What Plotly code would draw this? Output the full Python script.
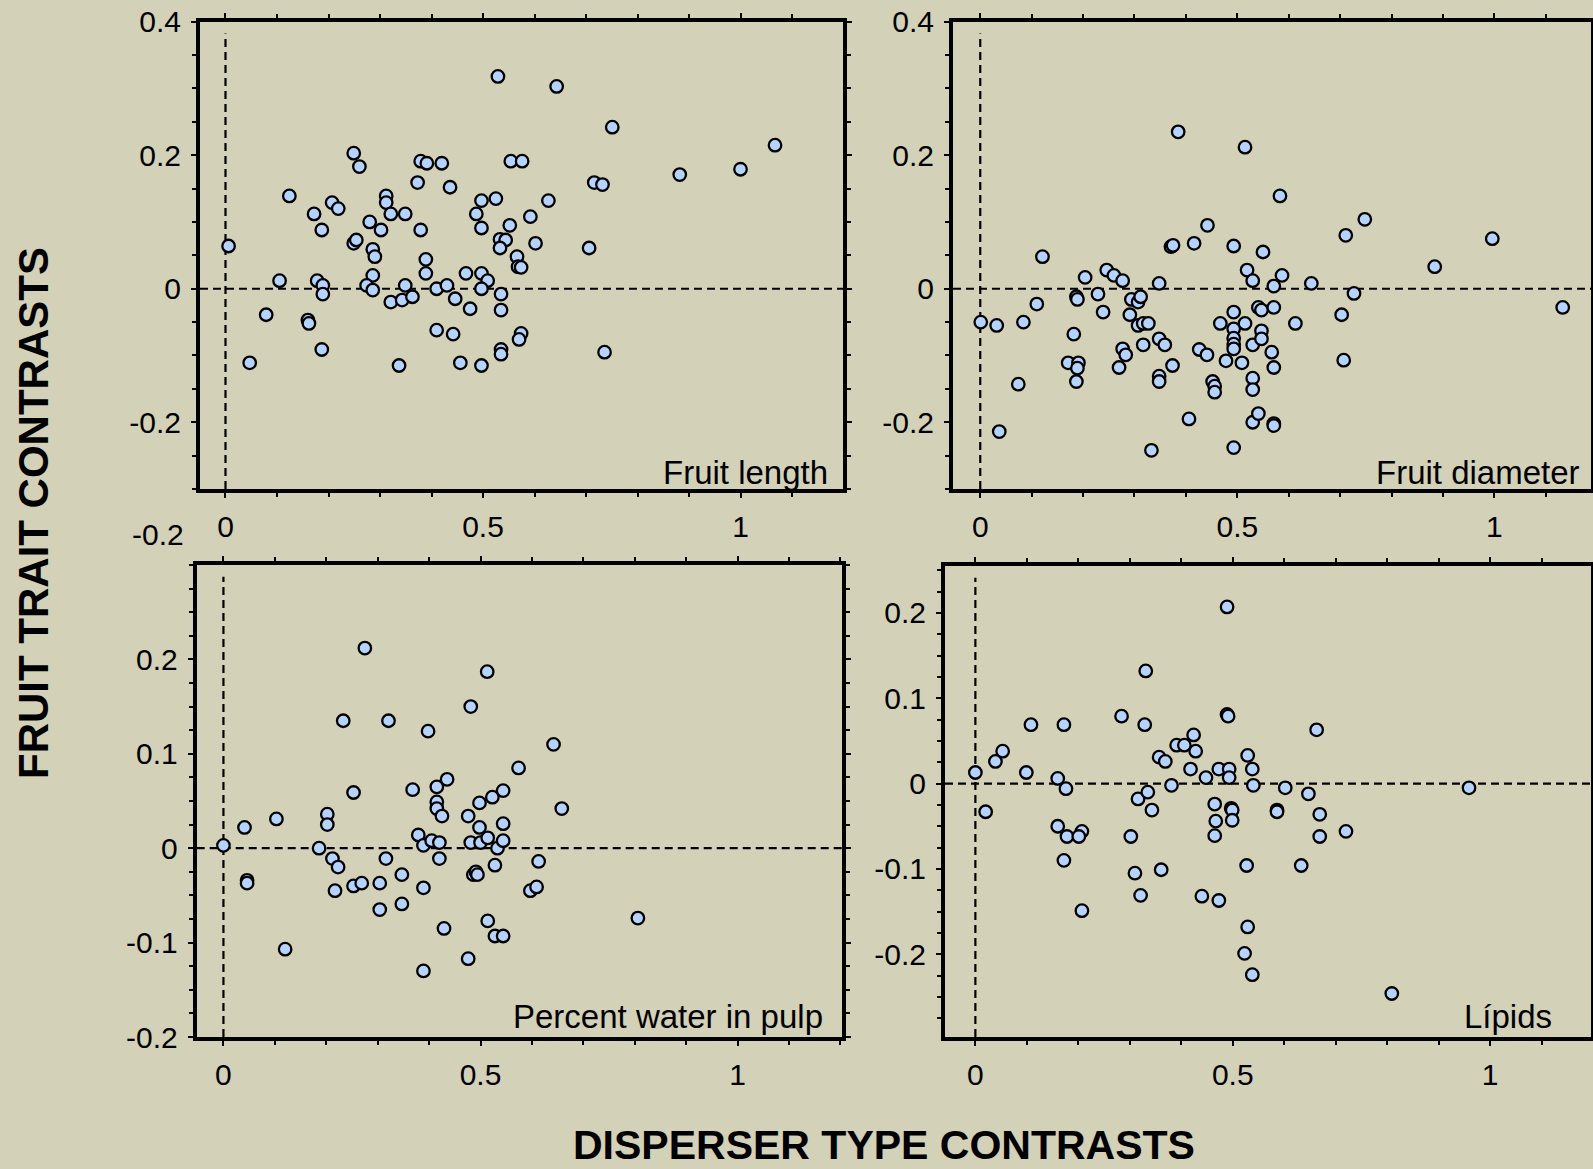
import plotly.graph_objects as go

# ---------------- data ----------------
fl_x = [0.006, 0.047, 0.079, 0.105, 0.124, 0.160, 0.162, 0.172, 0.178, 0.189, 0.189, 0.187, 0.187, 0.207, 0.219,
        0.249, 0.260, 0.249, 0.254, 0.280, 0.286, 0.286, 0.274, 0.286, 0.290, 0.302, 0.312, 0.312, 0.321, 0.349,
        0.337, 0.321, 0.343, 0.349, 0.363, 0.373, 0.379, 0.391, 0.379, 0.389, 0.389, 0.410, 0.430, 0.420, 0.436,
        0.410, 0.442, 0.446, 0.475, 0.467, 0.456, 0.487, 0.497, 0.497, 0.497, 0.509, 0.497, 0.497, 0.529, 0.525,
        0.533, 0.544, 0.533, 0.552, 0.535, 0.535, 0.535, 0.535, 0.554, 0.576, 0.566, 0.568, 0.574, 0.574, 0.570,
        0.592, 0.602, 0.627, 0.643, 0.706, 0.716, 0.732, 0.736, 0.751, 0.882, 1.000, 1.067]
fl_y = [0.064, -0.111, -0.039, 0.012, 0.139, -0.047, -0.052, 0.112, 0.012, 0.005, -0.008, -0.091, 0.088, 0.129, 0.120,
        0.203, 0.183, 0.068, 0.073, 0.100, 0.059, 0.020, 0.005, -0.002, 0.048, 0.088, 0.139, 0.129, 0.112, 0.112,
        -0.115, -0.020, -0.017, 0.005, -0.012, 0.159, 0.191, 0.188, 0.088, 0.044, 0.023, 0.000, 0.005, 0.188, 0.152,
        -0.062, -0.068, -0.015, -0.030, 0.023, -0.111, 0.112, 0.132, 0.091, 0.023, 0.012, 0.000, -0.115, 0.318, 0.135,
        0.074, 0.073, 0.061, 0.095, -0.008, -0.032, -0.091, -0.098, 0.191, 0.191, 0.048, 0.033, 0.032, -0.067, -0.076,
        0.108, 0.068, 0.132, 0.303, 0.061, 0.159, 0.156, -0.095, 0.242, 0.171, 0.179, 0.215]

fd_x = [0.001, 0.032, 0.037, 0.074, 0.084, 0.110, 0.121, 0.171, 0.182, 0.187, 0.189, 0.191, 0.189, 0.187, 0.204,
        0.229, 0.239, 0.246, 0.260, 0.277, 0.270, 0.277, 0.283, 0.291, 0.294, 0.307, 0.312, 0.307, 0.317, 0.327,
        0.317, 0.333, 0.348, 0.348, 0.359, 0.348, 0.348, 0.371, 0.375, 0.374, 0.385, 0.406, 0.416, 0.426, 0.441,
        0.442, 0.452, 0.456, 0.456, 0.467, 0.478, 0.493, 0.493, 0.493, 0.493, 0.493, 0.493, 0.493, 0.509, 0.515,
        0.515, 0.519, 0.530, 0.530, 0.530, 0.530, 0.530, 0.541, 0.547, 0.541, 0.547, 0.547, 0.550, 0.567, 0.571,
        0.571, 0.571, 0.571, 0.571, 0.583, 0.587, 0.613, 0.644, 0.703, 0.707, 0.711, 0.727, 0.748, 0.884, 0.996, 1.133]
fd_y = [-0.050, -0.055, -0.214, -0.143, -0.050, -0.023, 0.048, -0.111, -0.068, -0.012, -0.016, -0.111, -0.119, -0.139, 0.017,
        -0.008, -0.035, 0.028, 0.020, 0.012, -0.118, -0.090, -0.099, -0.039, -0.016, -0.020, -0.012, -0.055, -0.052, -0.052,
        -0.084, -0.242, 0.008, -0.075, -0.084, -0.131, -0.139, 0.063, 0.065, -0.115, 0.235, -0.195, 0.068, -0.091, -0.099,
        0.095, -0.139, -0.146, -0.155, -0.052, -0.108, 0.064, -0.035, -0.060, -0.074, -0.083, -0.090, -0.238, -0.111, 0.212,
        -0.052, 0.028, 0.012, -0.084, -0.134, -0.151, -0.200, -0.028, -0.063, -0.187, -0.032, -0.075, 0.055, -0.095, 0.004,
        -0.028, -0.118, -0.202, -0.205, 0.139, 0.020, -0.052, 0.008, -0.039, -0.107, 0.080, -0.007, 0.104, 0.033, 0.075, -0.028]

wp_x = [0.000, 0.041, 0.046, 0.046, 0.103, 0.120, 0.186, 0.202, 0.202, 0.212, 0.223, 0.217, 0.233, 0.253, 0.253,
        0.269, 0.275, 0.304, 0.304, 0.316, 0.321, 0.347, 0.347, 0.368, 0.379, 0.389, 0.389, 0.389, 0.398, 0.405,
        0.415, 0.415, 0.415, 0.420, 0.420, 0.425, 0.429, 0.435, 0.476, 0.476, 0.481, 0.481, 0.486, 0.491, 0.494,
        0.498, 0.498, 0.500, 0.513, 0.514, 0.514, 0.523, 0.528, 0.528, 0.533, 0.544, 0.544, 0.544, 0.544, 0.574,
        0.597, 0.609, 0.613, 0.642, 0.658, 0.806]
wp_y = [0.003, 0.022, -0.034, -0.037, 0.031, -0.107, 0.000, 0.036, 0.025, -0.011, -0.020, -0.045, 0.135, 0.059, -0.040,
        -0.037, 0.212, -0.037, -0.065, -0.011, 0.135, -0.028, -0.059, 0.062, 0.014, 0.003, -0.042, -0.130, 0.124, 0.008,
        0.065, 0.049, 0.042, 0.006, -0.011, 0.034, -0.085, 0.073, 0.034, -0.117, 0.150, 0.006, -0.028, -0.025, -0.028,
        0.048, 0.022, 0.006, 0.187, 0.011, -0.077, 0.054, -0.018, -0.093, 0.000, 0.061, 0.026, 0.008, -0.093, 0.085,
        -0.045, -0.041, -0.014, 0.110, 0.042, -0.074]

lp_x = [0.000, 0.020, 0.039, 0.053, 0.099, 0.108, 0.160, 0.176, 0.172, 0.160, 0.178, 0.172, 0.207, 0.201, 0.207,
        0.284, 0.302, 0.310, 0.321, 0.316, 0.335, 0.343, 0.331, 0.329, 0.357, 0.369, 0.361, 0.381, 0.391, 0.406,
        0.424, 0.428, 0.418, 0.440, 0.448, 0.465, 0.467, 0.465, 0.473, 0.473, 0.489, 0.489, 0.491, 0.493, 0.493,
        0.497, 0.499, 0.499, 0.529, 0.538, 0.540, 0.527, 0.529, 0.523, 0.538, 0.586, 0.586, 0.602, 0.633, 0.647,
        0.663, 0.669, 0.669, 0.720, 0.809, 0.959]
lp_y = [0.013, -0.033, 0.026, 0.038, 0.013, 0.069, 0.006, -0.006, 0.069, -0.050, -0.062, -0.090, -0.056, -0.062, -0.149,
        0.079, -0.062, -0.105, -0.131, -0.018, -0.010, -0.031, 0.132, 0.069, 0.031, 0.026, -0.101, -0.002, 0.045, 0.045,
        0.057, 0.038, 0.017, -0.132, 0.007, -0.024, -0.044, -0.061, -0.137, 0.017, 0.207, 0.081, 0.079, 0.017, 0.007,
        -0.029, -0.031, -0.043, 0.033, 0.017, -0.002, -0.096, -0.168, -0.199, -0.224, -0.031, -0.033, -0.005, -0.096, -0.012,
        0.063, -0.036, -0.062, -0.056, -0.246, -0.005]

panel_labels = ["Fruit length", "Fruit diameter", "Percent water in pulp", "L\u00edpids"]
x_tickvals = [0, 0.5, 1]
x_ticktext = ["0", "0.5", "1"]
y_tickvals_top = [-0.2, 0, 0.2, 0.4]
y_ticktext_top = ["-0.2", "0", "0.2", "0.4"]
y_tickvals_bot = [-0.2, -0.1, 0, 0.1, 0.2]
y_ticktext_bot = ["-0.2", "-0.1", "0", "0.1", "0.2"]
y_title = "FRUIT TRAIT CONTRASTS"
x_title = "DISPERSER TYPE CONTRASTS"

# ---------------- styling ----------------
W, H = 1593, 1169
BG = "#d4d1b9"
FONT = "Liberation Sans, Arial, sans-serif"
MARK_FILL = "#b4d3ff"

def px_x(p):
    return p / W

def px_y(p):
    return 1 - p / H

panels = [
    dict(x=fl_x, y=fl_y, dom_x=(200, 843), dom_y=(21.7, 489), xr=(-0.0495, 1.199), yr=(-0.3, 0.4),
         yt=(y_tickvals_top, y_ticktext_top), yminor=0.05, label_dx=13, label_dy=17),
    dict(x=fd_x, y=fd_y, dom_x=(953, 1591), dom_y=(21.7, 489), xr=(-0.053, 1.188), yr=(-0.3, 0.4),
         yt=(y_tickvals_top, y_ticktext_top), yminor=0.05, label_dx=9, label_dy=17),
    dict(x=wp_x, y=wp_y, dom_x=(196.7, 842), dom_y=(565, 1037), xr=(-0.052, 1.203), yr=(-0.2, 0.3),
         yt=(y_tickvals_bot, y_ticktext_bot), yminor=0.025, label_dx=17, label_dy=21),
    dict(x=lp_x, y=lp_y, dom_x=(945, 1591), dom_y=(566, 1037), xr=(-0.059, 1.196), yr=(-0.297, 0.255),
         yt=(y_tickvals_bot, y_ticktext_bot), yminor=0.025, label_dx=37, label_dy=21),
]

fig = go.Figure()
shapes = []
annotations = []

for i, p in enumerate(panels, start=1):
    xa = "x" if i == 1 else f"x{i}"
    ya = "y" if i == 1 else f"y{i}"
    fig.add_trace(go.Scatter(
        x=p["x"], y=p["y"], mode="markers", xaxis=xa, yaxis=ya, showlegend=False,
        marker=dict(size=12.5, color=MARK_FILL, line=dict(color="black", width=2.3)),
        cliponaxis=False, hoverinfo="skip",
    ))
    axis_common = dict(
        showline=True, linecolor="black", linewidth=4, mirror="allticks",
        ticks="outside", ticklen=5, tickwidth=2, tickcolor="black",
        showgrid=False, zeroline=False, automargin=False,
        tickfont=dict(family=FONT, size=30, color="black"),
    )
    xkey = "xaxis" if i == 1 else f"xaxis{i}"
    ykey = "yaxis" if i == 1 else f"yaxis{i}"
    fig.update_layout({
        xkey: dict(
            axis_common,
            domain=[px_x(p["dom_x"][0]), px_x(p["dom_x"][1])],
            range=list(p["xr"]), anchor=ya,
            tickmode="array", tickvals=x_tickvals, ticktext=x_ticktext,
            ticklabelstandoff=3,
            minor=dict(tickmode="linear", tick0=0, dtick=0.1, ticks="outside", ticklen=4,
                       tickwidth=2, tickcolor="black", showgrid=False),
        ),
        ykey: dict(
            axis_common,
            domain=[px_y(p["dom_y"][1]), px_y(p["dom_y"][0])],
            range=list(p["yr"]), anchor=xa,
            tickmode="array", tickvals=p["yt"][0], ticktext=p["yt"][1],
            ticklabelstandoff=4,
            minor=dict(tickmode="linear", tick0=0, dtick=p["yminor"], ticks="outside", ticklen=4,
                       tickwidth=2, tickcolor="black", showgrid=False),
        ),
    })
    dash = "8px,5px"
    shapes.append(dict(type="line", xref=xa, yref=f"{ya} domain", x0=0, x1=0, y0=0, y1=0.975,
                       line=dict(color="black", width=2.2, dash=dash), layer="below"))
    shapes.append(dict(type="line", xref=f"{xa} domain", yref=ya, x0=0, x1=1, y0=0, y1=0,
                       line=dict(color="black", width=2.2, dash=dash), layer="below"))
    w = p["dom_x"][1] - p["dom_x"][0]
    h = p["dom_y"][1] - p["dom_y"][0]
    annotations.append(dict(
        text=panel_labels[i - 1], xref=f"{xa} domain", yref=f"{ya} domain",
        x=1 - p["label_dx"] / w, y=p["label_dy"] / h, xanchor="right", yanchor="middle",
        showarrow=False, font=dict(family=FONT, size=33, color="black"),
    ))

annotations.append(dict(
    text=f"<b>{y_title}</b>", xref="paper", yref="paper", x=px_x(33), y=px_y(513),
    textangle=-90, showarrow=False, xanchor="center", yanchor="middle",
    font=dict(family=FONT, size=42, color="black"),
))
annotations.append(dict(
    text=f"<b>{x_title}</b>", xref="paper", yref="paper", x=px_x(884), y=px_y(1145),
    showarrow=False, xanchor="center", yanchor="middle",
    font=dict(family=FONT, size=41, color="black"),
))
annotations.append(dict(
    text="-0.2", xref="paper", yref="paper", x=px_x(157.5), y=px_y(534.5),
    showarrow=False, xanchor="center", yanchor="middle",
    font=dict(family=FONT, size=30, color="black"),
))

fig.update_layout(
    width=W, height=H, margin=dict(l=0, r=0, t=0, b=0, pad=0, autoexpand=False),
    paper_bgcolor=BG, plot_bgcolor=BG,
    shapes=shapes, annotations=annotations,
    showlegend=False, hovermode=False,
)

fig.write_html(
    "out.html",
    config={"displayModeBar": False},
    post_script="document.body.style.margin='0';document.body.style.overflow='hidden';"
                "document.body.style.background='" + BG + "';",
)
